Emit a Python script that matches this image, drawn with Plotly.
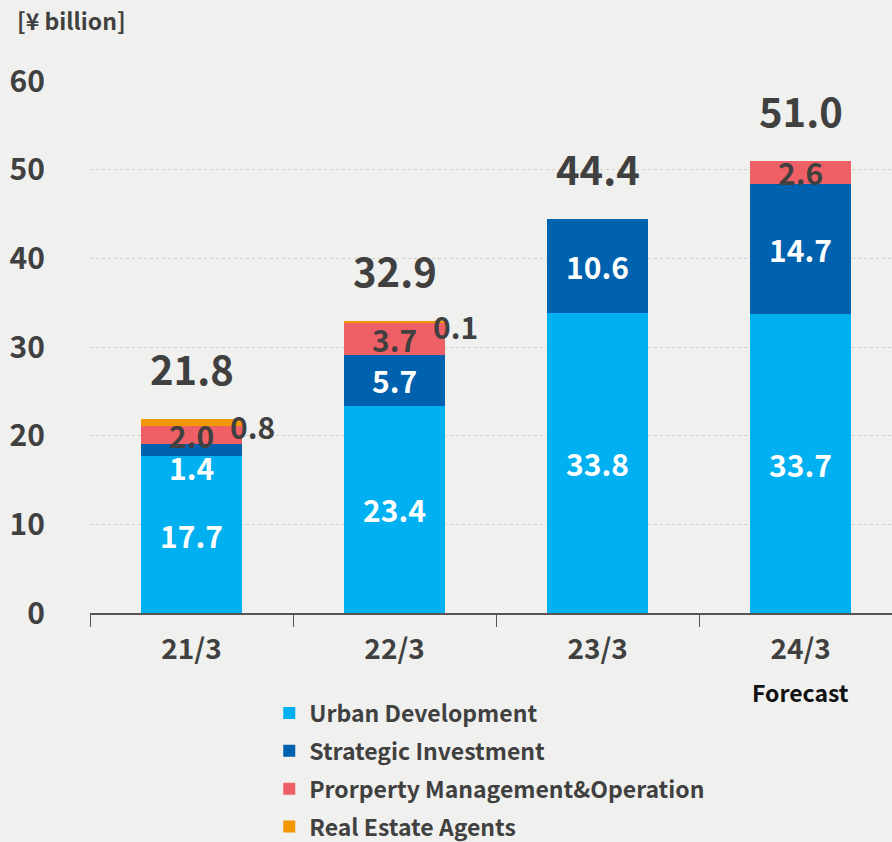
import plotly.graph_objects as go

categories = ["21/3", "22/3", "23/3", "24/3"]
urban = [17.7, 23.4, 33.8, 33.7]
strategic = [1.4, 5.7, 10.6, 14.7]
property_mgmt = [2.0, 3.7, 0, 2.6]
real_estate = [0.8, 0.1, 0, 0]
totals = [21.8, 32.9, 44.4, 51.0]
y_ticks = [0, 10, 20, 30, 40, 50, 60]

FONT = "Noto Sans CJK JP"
DARK = "#404040"
BG = "#F0F0EE"
C_UD = "#00B0F0"
C_SI = "#0062AE"
C_PM = "#EF6066"
C_RE = "#F39800"

fig = go.Figure()
series = [
    ("Urban Development", urban, C_UD),
    ("Strategic Investment", strategic, C_SI),
    ("Prorperty Management&Operation", property_mgmt, C_PM),
    ("Real Estate Agents", real_estate, C_RE),
]
for name, vals, col in series:
    fig.add_trace(go.Bar(
        x=categories, y=vals, name=name, legendgroup=name,
        marker=dict(color=col, line=dict(width=0)),
        hoverinfo="skip",
    ))

ann = []
lab_font = dict(family=FONT, size=30, weight=700)
for i, c in enumerate(categories):
    u, s, p, r = urban[i], strategic[i], property_mgmt[i], real_estate[i]
    ann.append(dict(x=c, y=u / 2, text=f"{u:.1f}", showarrow=False,
                    font=dict(lab_font, color="white")))
    if s < 3:
        ann.append(dict(x=c, y=u, yshift=-11, text=f"{s:.1f}", showarrow=False,
                        font=dict(lab_font, color="white")))
    else:
        ann.append(dict(x=c, y=u + s / 2, text=f"{s:.1f}", showarrow=False,
                        font=dict(lab_font, color="white")))
    if p > 0:
        ann.append(dict(x=c, y=u + s + p / 2, text=f"{p:.1f}", showarrow=False,
                        font=dict(lab_font, color=DARK)))
    if r > 0:
        ann.append(dict(x=c, y=u + s + p + r / 2, xshift=61, yshift=-4,
                        text=f"{r:.1f}", showarrow=False,
                        font=dict(lab_font, color=DARK)))
    ann.append(dict(x=c, y=u + s + p + r, yshift=51, text=f"{totals[i]:.1f}",
                    showarrow=False,
                    font=dict(family=FONT, size=40, weight=700, color=DARK)))

ann.append(dict(x=categories[3], y=-0.1485, yref="paper", yanchor="middle",
                text="Forecast", showarrow=False,
                font=dict(family=FONT, size=23, weight=700, color="#111111")))
ann.append(dict(x=-0.0935, y=1.1147, xref="paper", yref="paper",
                xanchor="left", yanchor="middle",
                text="[¥ billion]", showarrow=False,
                font=dict(family=FONT, size=23, weight=700, color=DARK)))

fig.update_layout(
    width=892, height=842,
    barmode="stack", bargap=0.5,
    paper_bgcolor=BG, plot_bgcolor=BG,
    margin=dict(l=90, r=0, t=81, b=229, autoexpand=False),
    font=dict(family=FONT, color=DARK),
    showlegend=True,
    legend=dict(
        x=0.2235, y=-0.1475, xanchor="left", yanchor="top",
        orientation="v", traceorder="grouped", tracegroupgap=5,
        font=dict(family=FONT, size=23, weight=700, color=DARK),
        bgcolor="rgba(0,0,0,0)",
        itemclick=False, itemdoubleclick=False,
    ),
    annotations=ann,
)
fig.update_xaxes(
    type="category", range=[-0.5, 3.45],
    showline=True, linecolor="#555555", linewidth=1.5,
    ticks="outside", tickson="boundaries", ticklen=12, tickcolor="#555555",
    tickwidth=1.2, showgrid=False,
    tickfont=dict(family=FONT, size=28, weight=700, color=DARK),
    ticklabelstandoff=11,
)
fig.update_yaxes(
    range=[0, 60], tickvals=y_ticks,
    showgrid=True, gridcolor="#CFCFCF", griddash="dot", gridwidth=1,
    zeroline=False, showline=False,
    tickfont=dict(family=FONT, size=30, weight=700, color=DARK),
    ticklabelstandoff=44,
)

fig.write_html(
    "out.html",
    config={"displayModeBar": False},
    post_script="document.body.style.margin='0';"
                "document.body.style.background='#F0F0EE';"
                "document.body.style.overflow='hidden';",
)
